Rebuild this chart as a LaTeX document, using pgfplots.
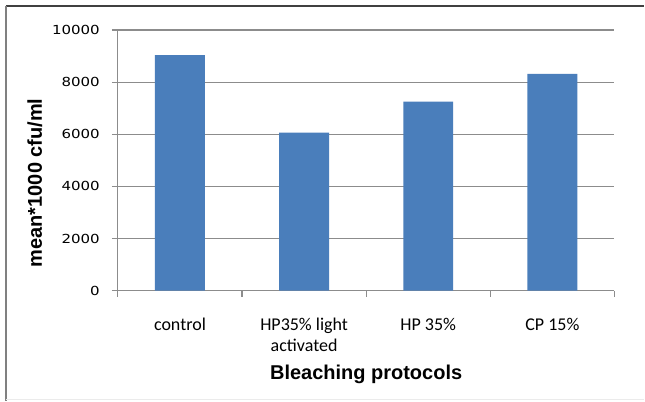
\documentclass[border=0pt]{standalone}
\usepackage{fontspec}
\usepackage{pgfplots}
\pgfplotsset{compat=1.18}
\setmainfont{Carlito}
\newfontfamily\tickfont[FakeStretch=1.2]{DejaVu Sans}
\newfontfamily\labfont{Liberation Sans}
\definecolor{barblue}{HTML}{4A7EBB}
\definecolor{gridgray}{HTML}{8C8C8C}
\begin{document}
\begin{tikzpicture}[x=1pt,y=1pt]
\fill[white] (0,0) rectangle (645,401);
\draw[color=black!75, line width=1.2pt] (6,395) -- (645,395);
\draw[color=gray, line width=1.5pt] (6,395) -- (6,0);
\draw[black!8, line width=0.8pt] (6,1) -- (645,1);
\begin{axis}[at={(118pt,110pt)}, anchor=south west, scale only axis,
  width=497pt, height=261pt,
  xmin=-0.5, xmax=3.5, ymin=0, ymax=10000,
  scaled y ticks=false,
  axis lines*=left, axis line style={gridgray, line width=1.2pt},
  ytick={0,2000,4000,6000,8000,10000},
  yticklabels={0,2000,4000,6000,8000,10000},
  ymajorgrids, grid style={gridgray, line width=1.2pt},
  xtick={0,1,2,3},
  xticklabels={\rule{0pt}{13pt}control,{\rule{0pt}{13pt}HP35\% light\\activated},\rule{0pt}{13pt}HP 35\%,\rule{0pt}{13pt}CP 15\%},
  minor xtick={-0.5,0.5,1.5,2.5,3.5},
  tick align=outside, major tick length=6pt, minor tick length=6pt,
  tick style={gridgray, line width=1.2pt},
  major x tick style={draw=none},
  yticklabel style={font=\tickfont\fontsize{12.5}{15}\selectfont, anchor=east, inner sep=0pt, xshift=-12pt},
  xticklabel style={font=\fontsize{18}{21.7}\selectfont, align=center, anchor=north, inner sep=0pt, yshift=-20.3pt},
  clip=false,
]
\addplot[ybar, bar width=50pt, fill=barblue, draw=none]
  coordinates {(0,9040) (1,6065) (2,7255) (3,8315)};
\end{axis}
\node[font=\labfont\bfseries\fontsize{20}{24}\selectfont, anchor=base] at (366.5,21) {Bleaching protocols};
\node[font=\labfont\bfseries\fontsize{20}{24}\selectfont, anchor=base, rotate=90] at (42,218) {mean*1000 cfu/ml};
\end{tikzpicture}
\end{document}
